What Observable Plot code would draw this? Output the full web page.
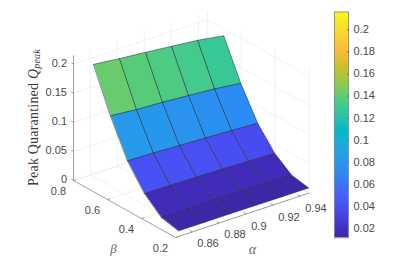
<!DOCTYPE html>
<html>
<head>
<meta charset="utf-8">
<script src="https://cdn.jsdelivr.net/npm/d3@7"></script>
<script src="https://cdn.jsdelivr.net/npm/@observablehq/plot@0.6"></script>
<style>
html,body{margin:0;padding:0;background:#fff;}
#chart{position:relative;width:401px;height:266px;overflow:hidden;}
#chart svg{position:absolute;top:0;}
</style>
</head>
<body>
<div id="chart"></div>
<script>
// ---- data ----
const alphaNodes = [0.85, 0.8693, 0.8886, 0.9079, 0.9272, 0.9463];
const betaNodes = [0.2, 0.3, 0.4, 0.5, 0.6, 0.7];
const peakBeta02 = [0.0096, 0.0096, 0.0095, 0.0094, 0.0092, 0.009];
const peakBeta03 = [0.016, 0.0162, 0.0165, 0.0165, 0.016, 0.0145];
const peakBeta04 = [0.041, 0.0405, 0.0395, 0.0385, 0.037, 0.0358];
const peakBeta05 = [0.081, 0.0795, 0.0775, 0.0755, 0.0735, 0.071];
const peakBeta06 = [0.142, 0.1378, 0.1355, 0.1321, 0.1287, 0.1235];
const peakBeta07 = [0.214, 0.2092, 0.2051, 0.2005, 0.1959, 0.189];
const peakRows = [peakBeta02, peakBeta03, peakBeta04, peakBeta05, peakBeta06, peakBeta07];

const alphaTicks = [0.86, 0.88, 0.9, 0.92, 0.94];
const betaTicks = [0.2, 0.4, 0.6, 0.8];
const peakTicks = [0, 0.05, 0.1, 0.15, 0.2];
const colorTicks = [0.02, 0.04, 0.06, 0.08, 0.1, 0.12, 0.14, 0.16, 0.18, 0.2];
const alphaLimits = [0.8476, 0.9468];
const betaLimits = [0.2, 0.8];
const peakLimits = [0, 0.2148];
const colorLimits = [0.0115, 0.216];

// parula colormap stops
const parula = [[.2422,.1504,.6603],[.2647,.1978,.7952],[.2783,.2559,.8991],[.2810,.3228,.9579],
  [.2699,.3892,.9906],[.2206,.4603,.9973],[.1786,.5289,.9682],[.1540,.5902,.9218],[.1248,.6459,.8883],
  [.0689,.6948,.8394],[.0067,.7312,.7660],[.1408,.7584,.6842],[.2161,.7843,.5923],[.3406,.8008,.4789],
  [.5044,.7993,.3480],[.6720,.7793,.2227],[.8203,.7498,.1535],[.9393,.7288,.2100],[.9970,.7659,.2199],
  [.9786,.8386,.1766],[.9597,.9135,.1423],[.9769,.9839,.0805]]
  .map(([r, g, b]) => d3.rgb(r * 255, g * 255, b * 255).formatRgb());

// ---- orthographic view of (alpha, beta, peak) ----
const viewU = (a, b) => (a - alphaLimits[0]) * 1350 - (b - betaLimits[0]) * 170;
const viewV = (a, b, q) => (a - alphaLimits[0]) * 449 + (b - betaLimits[0]) * 95 + q * 582;
const pt = (a, b, q) => ({u: viewU(a, b), v: viewV(a, b, q), a, b, q});
const seg = (p, q) => ({x1: p.u, y1: p.v, x2: q.u, y2: q.v});

const [aMin, aMax] = alphaLimits, [bMin, bMax] = betaLimits, [qMin, qMax] = peakLimits;

// surface cells, back to front
const cells = [];
for (let j = betaNodes.length - 2; j >= 0; j--) {
  for (let i = 0; i < alphaNodes.length - 1; i++) {
    const id = j + "-" + i;
    const value = peakRows[j][i];
    for (const [m, n] of [[i, j], [i + 1, j], [i + 1, j + 1], [i, j + 1]]) {
      cells.push({...pt(alphaNodes[m], betaNodes[n], peakRows[n][m]), id, value});
    }
  }
}

// grid on floor and the two back walls
const grid = [
  ...alphaTicks.flatMap(a => [
    seg(pt(a, bMin, 0), pt(a, bMax, 0)),
    seg(pt(a, bMax, 0), pt(a, bMax, qMax))]),
  ...betaTicks.flatMap(b => [
    seg(pt(aMin, b, 0), pt(aMax, b, 0)),
    seg(pt(aMax, b, 0), pt(aMax, b, qMax))]),
  ...peakTicks.flatMap(q => [
    seg(pt(aMin, bMax, q), pt(aMax, bMax, q)),
    seg(pt(aMax, bMax, q), pt(aMax, bMin, q))]),
  seg(pt(aMin, bMax, 0), pt(aMin, bMax, qMax))
];

const axes = [
  seg(pt(aMin, bMax, qMin), pt(aMin, bMax, qMax)),
  seg(pt(aMin, bMin, 0), pt(aMin, bMax, 0)),
  seg(pt(aMin, bMin, 0), pt(aMax, bMin, 0)),
  ...peakTicks.map(q => seg(pt(aMin, bMax, q), pt(aMin, bMax + 0.0135, q))),
  ...betaTicks.map(b => seg(pt(aMin, b, 0), pt(aMin + 0.002, b, 0))),
  ...alphaTicks.map(a => seg(pt(a, bMin, 0), pt(a, bMin + 0.015, 0)))
];

const color = {
  type: "linear", domain: colorLimits, clamp: true,
  interpolate: d3.piecewise(d3.interpolateRgb, parula)
};

const sans = "'Liberation Sans', Arial, sans-serif";
const ink = "#4a4a4a";
const fmt = d => String(d);

const peakLabels = peakTicks.map(q => pt(aMin, bMax, q));
const betaLabels = betaTicks.map(b => pt(aMin, b, 0));
const alphaLabels = alphaTicks.map(a => pt(a, bMin, 0));

const main = Plot.plot({
  width: 401, height: 266,
  marginLeft: 0, marginRight: 0, marginTop: 0, marginBottom: 0,
  x: {domain: [-175, 226], axis: null},
  y: {domain: [-29, 237], axis: null},
  color,
  style: {fontFamily: sans, fontSize: "11px", background: "transparent"},
  marks: [
    Plot.link(grid, {x1: "x1", y1: "y1", x2: "x2", y2: "y2", stroke: "#ededed", strokeWidth: 0.8}),
    Plot.link(axes, {x1: "x1", y1: "y1", x2: "x2", y2: "y2", stroke: "#8a8a8a", strokeWidth: 0.8}),
    Plot.line(cells, {x: "u", y: "v", z: "id", fill: "value", stroke: "#1c2a33", strokeWidth: 0.6, strokeOpacity: 0.85, curve: "linear-closed"}),
    Plot.text(peakLabels, {x: "u", y: "v", text: d => fmt(d.q), textAnchor: "end", dx: -6.5, dy: -1, fill: ink}),
    Plot.text(betaLabels, {x: "u", y: "v", text: d => fmt(d.b), dx: -15, dy: 10.5, fill: ink}),
    Plot.text(alphaLabels, {x: "u", y: "v", text: d => fmt(d.a), textAnchor: "start", dx: 5, dy: 12, fill: ink}),
    Plot.text(["β"], {x: () => viewU(aMin, bMin) - 62, y: () => viewV(aMin, bMin, 0) - 11, text: d => d, fontFamily: "'Liberation Serif', serif", fontStyle: "italic", fontSize: 13, fill: "#666"}),
    Plot.text(["α"], {x: () => viewU(aMin, bMin) + 77, y: () => viewV(aMin, bMin, 0) - 15, dy: -3, text: d => d, fontFamily: "'Liberation Serif', serif", fontStyle: "italic", fontSize: 14, fill: "#666"}),
    Plot.text(["Peak Quarantined Qpeak"], {x: () => -142, y: () => 120, text: d => d, rotate: -90, fontFamily: "'Liberation Serif', serif", fontSize: 14, fill: "#3a3a3a", className: "zlabel"})
  ]
});

// typeset the subscript of the z label as real text
main.querySelectorAll(".zlabel text").forEach(t => {
  t.textContent = "";
  t.style.letterSpacing = "0.2px";
  const add = (s, attrs) => {
    const span = document.createElementNS("http://www.w3.org/2000/svg", "tspan");
    span.textContent = s;
    for (const k in attrs) span.setAttribute(k, attrs[k]);
    t.appendChild(span);
  };
  add("Peak Quarantined ", {});
  add("Q", {"font-style": "italic"});
  add("peak", {"font-style": "italic", "font-size": 10, dy: 2.5});
});

const levels = d3.range(64).map(i => {
  const span = colorLimits[1] - colorLimits[0];
  return {
    lo: colorLimits[0] + span * i / 64,
    hi: colorLimits[0] + span * (i + 1) / 64,
    mid: colorLimits[0] + span * (i + 0.5) / 64
  };
});

const bar = Plot.plot({
  width: 81, height: 266,
  marginLeft: 14, marginRight: 53, marginTop: 11.5, marginBottom: 28.7,
  x: {domain: [0, 1], axis: null},
  y: {domain: colorLimits},
  color,
  style: {fontFamily: sans, fontSize: "11px", background: "transparent"},
  marks: [
    Plot.rect(levels, {x1: 0, x2: 1, y1: "lo", y2: "hi", fill: "mid", stroke: "mid", strokeWidth: 0.3, shapeRendering: "crispEdges"}),
    Plot.frame({stroke: "#8a8a8a", strokeWidth: 0.9}),
    Plot.axisY(colorTicks, {anchor: "right", tickSize: -2, tickPadding: 7, tickFormat: fmt, label: null, color: ink, stroke: "#6f6f6f"})
  ]
});
bar.style.left = "320px";

const host = document.getElementById("chart");
host.appendChild(main);
host.appendChild(bar);
</script>
</body>
</html>
